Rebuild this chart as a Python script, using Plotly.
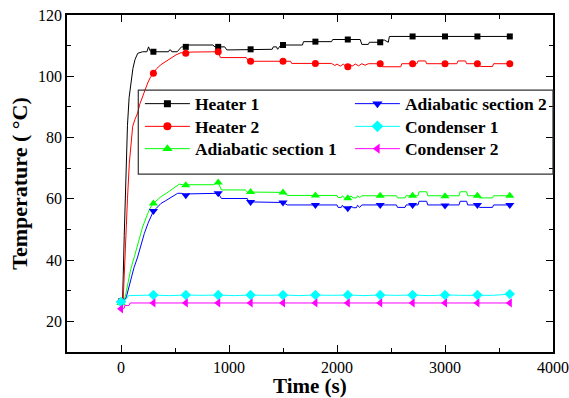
import plotly.graph_objects as go

# ---- data: (time s, temperature °C) ----
heater1 = [(0,26.5),(15,27),(30,48),(45,70),(60,84),(75,93),(90,98),(110,102.5),(130,105.5),(155,107.5),
           (200,108),(240,108),(255,109.6),(270,108.3),(285,108),(300,108),(440,108),(450,108.6),(460,108.6),
           (470,108),(520,108),(560,109.6),(600,109.6),(620,110.2),(850,110.2),(870,109.6),(900,109.6),
           (960,109.6),(980,108.6),(1180,108.6),(1200,108.8),(1400,108.8),(1410,109.6),(1440,109.6),
           (1450,108.8),(1480,110.2),(1500,110.2),(1680,110.2),(1690,111.3),(1800,111.3),(1950,111.3),
           (1960,112),(2100,112),(2215,112),(2230,110.4),(2290,110.4),(2300,111.1),(2400,111.1),(2410,111.8),
           (2440,111.8),(2475,111.1),(2485,113),(2700,113),(3000,113),(3300,113),(3600,113)]
heater2 = [(0,26.5),(20,27),(30,35),(46,50),(60,60),(77,71.6),(95,78),(108,83.6),(130,86),(154,88),
           (175,91),(200,93.5),(225,96),(247,97.8),(270,99.5),(300,101),(330,102.5),(370,103.8),(420,105),
           (463,106),(510,107),(556,107.7),(600,107.5),(640,107.9),(880,107.9),(900,108),(920,106.1),
           (1160,106.1),(1180,104.9),(1200,104.9),(1500,104.9),(1570,104.9),(1580,104.2),(1800,104.2),
           (1900,104.2),(1950,104.2),(1980,103.5),(2000,104),(2030,103.3),(2060,104),(2080,103.2),
           (2100,103.1),(2120,103.8),(2140,103.3),(2170,104),(2200,103.4),(2230,104.1),(2260,103.6),
           (2290,104.1),(2400,104.1),(2420,103.1),(2590,103.1),(2600,104.1),(2700,104.1),(2740,104.1),
           (2750,105),(2820,105),(2830,104.1),(3000,104.1),(3110,104.1),(3120,105),(3190,105),(3200,104.1),
           (3300,104.1),(3330,103.2),(3440,103.2),(3450,104.1),(3600,104.1)]
adiab1 = [(0,26),(30,27),(45,29),(62,32.3),(90,37),(123,41),(160,46),(200,50.8),(247,55.2),(270,57),
          (300,58.5),(330,59.5),(370,60.7),(420,61.8),(463,62.8),(500,63.8),(540,64.8),(600,64.4),
          (620,64.6),(860,64.6),(880,65.3),(900,65.3),(930,62.9),(1150,62.9),(1170,62.2),(1200,62.2),
          (1500,62.1),(1540,61.1),(1800,61.1),(2000,61.1),(2010,60.4),(2040,60.4),(2050,61),(2070,60.2),
          (2100,60.2),(2130,60.9),(2150,60.3),(2180,60.3),(2190,61),(2210,60.4),(2230,61),(2400,61),
          (2550,61),(2560,60.3),(2630,60.3),(2640,61),(2700,61),(2750,61),(2760,62.3),(2830,62.3),
          (2840,61),(2970,61),(2990,60.6),(3000,60.8),(3020,61),(3130,61),(3140,62.3),(3200,62.3),
          (3210,61),(3300,61),(3320,60.3),(3440,60.3),(3450,61),(3600,61)]
adiab2 = [(0,26),(30,26.5),(50,28),(70,31),(93,34.4),(120,37.5),(154,41),(185,45),(216,48.7),(250,52),
          (278,54.2),(300,56),(330,57),(370,58.5),(410,59.3),(447,60.1),(490,61),(525,61.8),(560,61.8),
          (600,61.2),(620,61.6),(880,61.6),(900,61.8),(930,60.1),(1170,60.1),(1180,59),(1200,59),
          (1500,58.8),(1540,58),(1800,58),(2000,58),(2010,57.2),(2040,57.2),(2050,57.9),(2070,57),
          (2100,56.9),(2130,57.6),(2150,57.1),(2180,57.1),(2190,57.9),(2210,57.2),(2230,58),(2400,58),
          (2550,58),(2560,57.2),(2630,57.2),(2640,58),(2700,58),(2750,58),(2760,59.2),(2830,59.2),
          (2840,58),(2970,58),(2990,57.6),(3000,57.8),(3020,58),(3130,58),(3140,59.2),(3200,59.2),
          (3210,58),(3300,58),(3320,57.2),(3440,57.2),(3450,58),(3600,58)]
cond1 = [(0,26.3),(30,26.8),(50,27.3),(70,28.4),(150,28.5),(300,28.6),(450,28.4),(600,28.6),(750,28.5),
         (900,28.6),(1050,28.4),(1200,28.6),(1350,28.5),(1500,28.6),(1650,28.4),(1800,28.6),(1950,28.5),
         (2100,28.6),(2250,28.4),(2400,28.6),(2550,28.5),(2700,28.6),(2850,28.4),(3000,28.6),(3150,28.5),
         (3300,28.6),(3450,28.5),(3600,28.9)]
cond2 = [(0,24.1),(30,24.3),(35,25.2),(75,25.2),(85,26),(300,26),(450,26.1),(600,26),(750,25.9),(900,26),
         (1050,26.1),(1200,26),(1350,25.9),(1500,26),(1650,26.1),(1800,26),(1950,25.9),(2100,26),
         (2250,26.1),(2400,26),(2550,25.9),(2700,26),(2850,26.1),(3000,26),(3150,25.9),(3300,26),
         (3450,26.1),(3600,26)]

names = ["Heater 1", "Heater 2", "Adiabatic section 1", "Adiabatic section 2", "Condenser 1", "Condenser 2"]
series = [heater1, heater2, adiab1, adiab2, cond1, cond2]
colors = ["#000000", "#FF0000", "#00FF00", "#0000FF", "#00FFFF", "#FF00FF"]
symbols = ["square", "circle", "triangle-up", "triangle-down", "diamond", "triangle-left"]
msizes = [6, 7, 8, 8, 8, 8]
legend_row = ["legend", "legend2", "legend3", "legend", "legend2", "legend3"]  # two-column legend
marker_step = 300
x_title = "Time (s)"
y_title = "Temperature ( °C)"

FONT = "Liberation Serif"
fig = go.Figure()
for name, data, col, sym, ms, lg in zip(names, series, colors, symbols, msizes, legend_row):
    t = [p[0] for p in data]
    v = [p[1] for p in data]
    mt = [p[0] for p in data if p[0] % marker_step == 0]
    mv = [p[1] for p in data if p[0] % marker_step == 0]
    fig.add_trace(go.Scatter(x=t, y=v, mode="lines", line=dict(color=col, width=1),
                             showlegend=False, hoverinfo="skip"))
    fig.add_trace(go.Scatter(x=mt, y=mv, mode="markers", showlegend=False,
                             marker=dict(symbol=sym, size=ms, color=col, line=dict(width=0))))
    fig.add_trace(go.Scatter(x=[None], y=[None], mode="lines+markers", name=name, legend=lg,
                             line=dict(color=col, width=1),
                             marker=dict(symbol=sym, size=ms + 1, color=col, line=dict(width=0))))

axis_common = dict(showline=True, linecolor="black", linewidth=1.5, mirror="ticks",
                   ticks="inside", ticklen=7, tickwidth=1.2, tickcolor="black",
                   showgrid=False, zeroline=False, automargin=True,
                   tickfont=dict(family=FONT, size=16, color="black"))
fig.update_xaxes(range=[-500, 4000], dtick=1000, tick0=0,
                 minor=dict(dtick=500, ticks="inside", ticklen=4, tickcolor="black", tickwidth=1.2),
                 **axis_common)
fig.update_yaxes(range=[10, 120], dtick=20, tick0=0,
                 minor=dict(dtick=10, ticks="inside", ticklen=4, tickcolor="black", tickwidth=1.2),
                 title=dict(text=y_title, font=dict(family=FONT, size=22, color="black", weight="bold"),
                            standoff=4),
                 **axis_common)

# x-axis title placed as an annotation so it can sit as low as in the reference
fig.add_annotation(text=x_title, xref="paper", yref="paper", x=0.5, y=0, xanchor="center",
                   yanchor="top", yshift=-20, showarrow=False,
                   font=dict(family=FONT, size=21, color="black", weight="bold"))

# legend frame
fig.add_shape(type="rect", xref="paper", yref="paper", x0=0.1467, x1=1.0, y0=0.528, y1=0.777,
              line=dict(color="#333333", width=1.2), fillcolor="rgba(0,0,0,0)", layer="above")

def legend_row_style(ytop):
    return dict(orientation="h", x=0.15, y=ytop, xanchor="left", yanchor="top",
                entrywidth=150, entrywidthmode="pixels", itemwidth=45,
                bgcolor="rgba(0,0,0,0)", borderwidth=0,
                font=dict(family=FONT, size=17.5, color="black", weight="bold"))

fig.update_layout(
    width=569, height=398,
    margin=dict(l=67, r=16, t=15, b=46, autoexpand=False),
    paper_bgcolor="white", plot_bgcolor="white",
    legend=legend_row_style(0.790),
    legend2=legend_row_style(0.7226),
    legend3=legend_row_style(0.6564),
    showlegend=True,
)
fig.write_html("out.html")
